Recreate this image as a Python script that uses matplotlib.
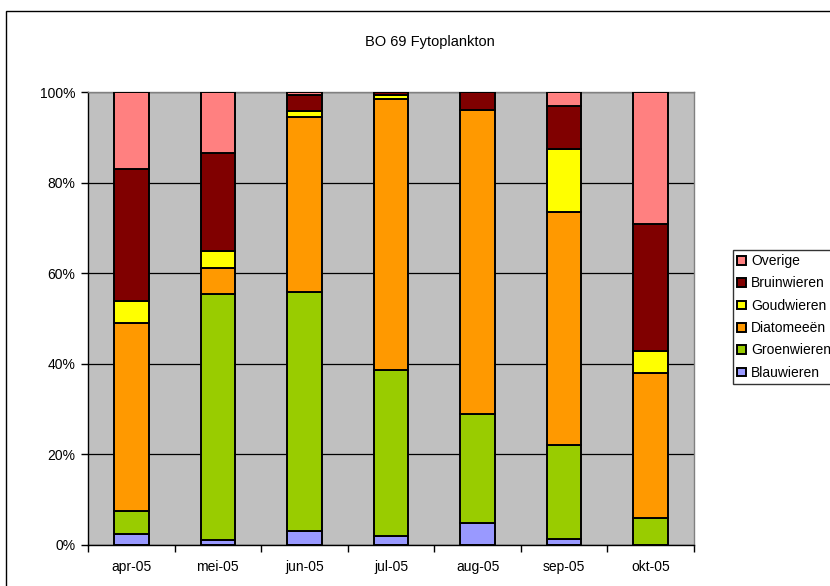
import matplotlib
matplotlib.use("Agg")
import matplotlib.pyplot as plt
from matplotlib.patches import Rectangle
import numpy as np

plt.rcParams['font.family'] = ['Liberation Sans', 'DejaVu Sans']

months = ["apr-05", "mei-05", "jun-05", "jul-05", "aug-05", "sep-05", "okt-05"]
series_names = ["Blauwieren", "Groenwieren", "Diatomeeën", "Goudwieren", "Bruinwieren", "Overige"]
blauwieren = [2.4, 1.0, 3.0, 2.0, 4.8, 1.4, 0.0]
groenwieren = [5.2, 54.3, 52.9, 36.6, 24.2, 20.6, 6.0]
diatomeeen = [41.3, 5.8, 38.6, 59.9, 67.1, 51.4, 32.0]
goudwieren = [4.9, 3.9, 1.3, 0.9, 0.0, 14.0, 4.9]
bruinwieren = [29.3, 21.5, 3.6, 0.5, 3.9, 9.6, 28.0]
overige = [16.9, 13.5, 0.6, 0.1, 0.0, 3.0, 29.1]
colors = ["#9999FF", "#99CC00", "#FF9900", "#FFFF00", "#800000", "#FF8080"]
yticklabels = ["0%", "20%", "40%", "60%", "80%", "100%"]

W, H = 830, 586
fig = plt.figure(figsize=(W / 100, H / 100), dpi=100)
fig.patch.set_facecolor("white")

# outer chart border
fig.patches.append(Rectangle((6 / W, -0.1), 1.2, 1 - 11 / H + 0.1, transform=fig.transFigure,
                             fill=False, edgecolor="black", linewidth=1.0, zorder=0))

ax = fig.add_axes([88 / W, 1 - 545 / H, (694 - 88) / W, (545 - 92) / H])
ax.set_facecolor("#C0C0C0")

data = np.array([blauwieren, groenwieren, diatomeeen, goudwieren, bruinwieren, overige])
totals = data.sum(axis=0)
pct = data / totals * 100
x = np.arange(len(months))
bottom = np.zeros(len(months))
handles = []
for name, vals, c in zip(series_names, pct, colors):
    b = ax.bar(x, vals, bottom=bottom, width=0.4, color=c, edgecolor="black",
               linewidth=1.4, label=name, zorder=3)
    handles.append(b)
    bottom += vals

ax.set_xlim(-0.5, len(months) - 0.5)
ax.set_ylim(0, 100)
ax.set_yticks([0, 20, 40, 60, 80, 100])
ax.set_yticklabels(yticklabels, fontsize=10)
ax.yaxis.grid(True, color="black", linewidth=0.9, zorder=1)
ax.set_axisbelow(True)
ax.set_xticks(x)
ax.set_xticklabels(months, fontsize=10)
ax.set_xticks(np.arange(len(months) + 1) - 0.5, minor=True)
ax.tick_params(axis="x", which="major", length=0, pad=11)
ax.tick_params(axis="x", which="minor", length=5, width=1, direction="out")
ax.tick_params(axis="y", length=5, width=1, direction="out", pad=4)
for s in ["top", "right"]:
    ax.spines[s].set_color("#808080")
    ax.spines[s].set_linewidth(1)
for s in ["left", "bottom"]:
    ax.spines[s].set_color("black")
    ax.spines[s].set_linewidth(1)

fig.text(430 / W, 1 - 42 / H, "BO 69 Fytoplankton", ha="center", va="center", fontsize=10.5)

leg = fig.legend(handles[::-1], series_names[::-1], loc="upper left",
                 bbox_to_anchor=(733 / W, 1 - 250 / H), fontsize=10, frameon=True,
                 fancybox=False, edgecolor="black", handlelength=0.6, handleheight=0.6,
                 handletextpad=0.4, labelspacing=0.6, borderpad=0.3, borderaxespad=0)
leg.get_frame().set_linewidth(1)

fig.savefig("out.png", dpi=100)
